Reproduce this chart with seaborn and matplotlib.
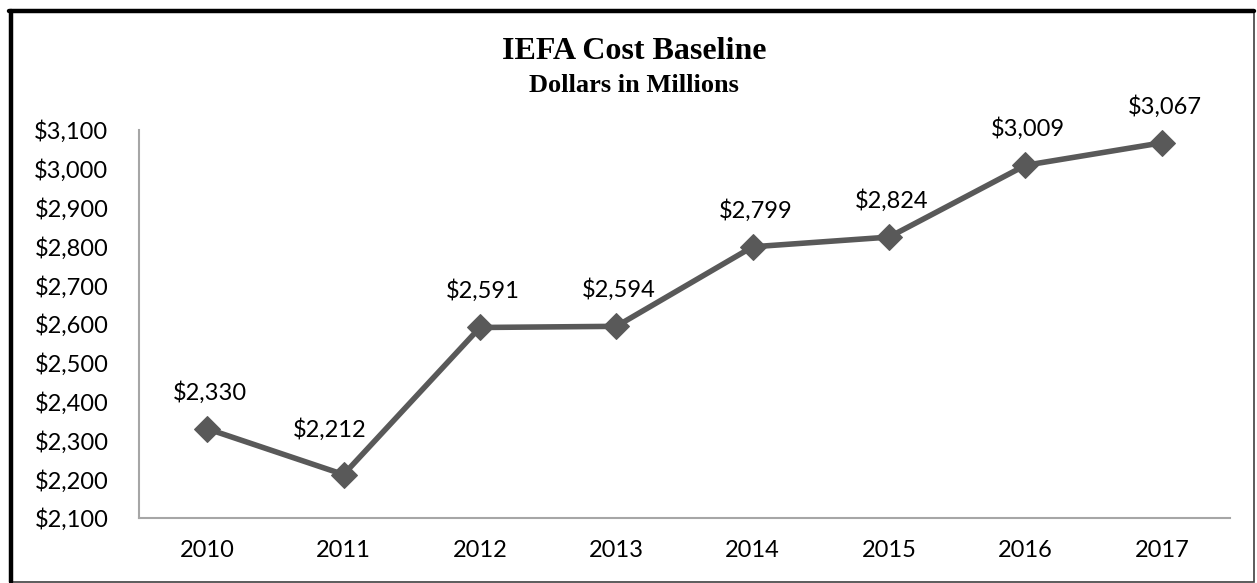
import pandas as pd
import seaborn as sns
import matplotlib.pyplot as plt
from matplotlib.patches import Rectangle

# data
years = ['2010', '2011', '2012', '2013', '2014', '2015', '2016', '2017']
costs = [2330, 2212, 2591, 2594, 2799, 2824, 3009, 3067]
yticks = list(range(2100, 3101, 100))

LINE = '#595959'
AXIS = '#a6a6a6'
SERIF = ['Liberation Serif', 'DejaVu Serif']

sns.set_style('white')
plt.rcParams['font.family'] = ['Lato', 'DejaVu Sans']
plt.rcParams['text.color'] = 'black'

df = pd.DataFrame({'year': years, 'cost': costs})

W, H = 1257, 583
fig = plt.figure(figsize=(W / 100, H / 100), dpi=100)
ax = fig.add_axes([139 / W, (H - 518) / H, (1230 - 139) / W, (518 - 130) / H])

sns.lineplot(data=df, x='year', y='cost', ax=ax, color=LINE, linewidth=4,
             marker='D', markersize=13.5, markeredgecolor=LINE, sort=False)

# the 2011 label sits a little left and higher, clear of the line
label_shift = {'2011': (-10, 27)}
for i, (yr, v) in enumerate(zip(years, costs)):
    dx, dy = label_shift.get(yr, (2, 21))
    ax.annotate(f'${v:,}', (i, v), xytext=(dx, dy), textcoords='offset points',
                ha='center', va='baseline', fontsize=17, color='black')

ax.set_xlim(-0.5, len(years) - 0.5)
ax.set_ylim(2100, 3100)
ax.set_yticks(yticks)
ax.set_yticklabels([f'${t:,}' for t in yticks])
ax.tick_params(axis='both', length=0, labelsize=17, colors='black')
ax.tick_params(axis='y', pad=22)
ax.tick_params(axis='x', pad=16)
ax.set_xlabel('')
ax.set_ylabel('')
for s in ['top', 'right']:
    ax.spines[s].set_visible(False)
for s in ['left', 'bottom']:
    ax.spines[s].set_color(AXIS)
    ax.spines[s].set_linewidth(1.5)

fig.text(634 / W, 1 - 59 / H, 'IEFA Cost Baseline', ha='center', va='baseline',
         fontsize=23, fontweight='bold', family=SERIF, color='black')
fig.text(634 / W, 1 - 92 / H, 'Dollars in Millions', ha='center', va='baseline',
         fontsize=19, fontweight='bold', family=SERIF, color='black')

# outer frame: thin grey box plus heavy black left/top edges
fig.patches.append(Rectangle((10 / W, 1 / H), (1254 - 10) / W, (H - 11 - 1) / H,
                             transform=fig.transFigure, fill=False,
                             edgecolor='#404040', linewidth=1.2))
fig.add_artist(plt.Line2D([11 / W, 11 / W], [1 / H, 1 - 11 / H],
                          transform=fig.transFigure, color='black', linewidth=3.2))
fig.add_artist(plt.Line2D([9 / W, 1254 / W], [1 - 11 / H, 1 - 11 / H],
                          transform=fig.transFigure, color='black', linewidth=3.2))

fig.savefig('out.png', dpi=100)
